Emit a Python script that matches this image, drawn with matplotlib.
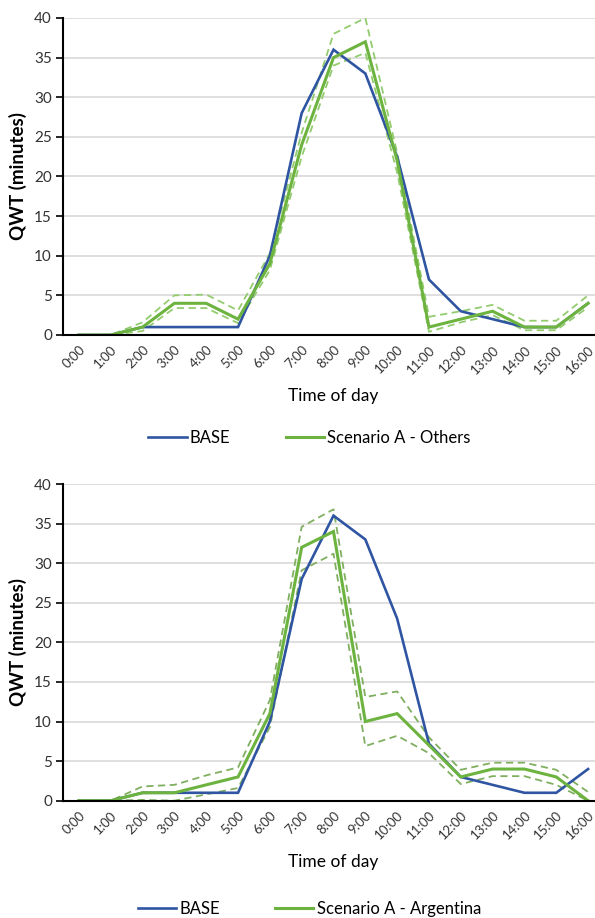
import numpy as np
import matplotlib.pyplot as plt

plt.rcParams['font.family'] = ['Lato', 'DejaVu Sans']

HOURS = [f"{h}:00" for h in range(17)]

# top panel - Scenario A Others
BASE_TOP = [0, 0, 1, 1, 1, 1, 10, 28, 36, 33, 22.5, 7, 3, 2, 1, 1, 4]
OTHERS_MID = [0, 0, 1, 4, 4, 2, 9, 24, 35, 37, 22, 1, 2, 3, 1, 1, 4]
OTHERS_HI = [0, 0, 1.6, 5, 5.1, 3.1, 10.3, 25.5, 38, 40, 23, 2.3, 3, 3.8, 1.8, 1.8, 5]
OTHERS_LO = [0, 0, 0.5, 3.4, 3.4, 1.5, 8.2, 22.5, 34, 35.6, 20.5, 0.4, 1.6, 2.5, 0.6, 0.6, 3.5]

# bottom panel - Scenario A Argentina
BASE_BOT = [0, 0, 1, 1, 1, 1, 10, 28, 36, 33, 23, 7.2, 3, 2, 1, 1, 4]
ARG_MID = [0, 0, 1, 1, 2, 3, 11, 32, 34, 10, 11, 7, 3, 4, 4, 3, 0]
ARG_HI = [0, 0, 1.8, 2, 3.2, 4.2, 12.7, 34.6, 36.8, 13.1, 13.8, 8, 3.9, 4.8, 4.8, 3.9, 1.1]
ARG_LO = [0, 0, 0.1, 0, 0.8, 1.6, 9.3, 29.1, 31.2, 6.9, 8.2, 6, 2.1, 3.1, 3.1, 2, 0]

BLUE = '#2F55A2'
GREEN = '#6DB33F'

fig = plt.figure(figsize=(5.95, 9.18), dpi=100)

def panel(rect, base, mid, hi, lo, dash_col, label, xlab_y, leg_y):
    ax = fig.add_axes(rect)
    x = np.arange(len(HOURS))
    ax.plot(x, hi, color=dash_col, lw=1.3, ls=(0, (4, 2.5)))
    ax.plot(x, lo, color=dash_col, lw=1.3, ls=(0, (4, 2.5)))
    l1, = ax.plot(x, base, color=BLUE, lw=1.9, solid_joinstyle='miter')
    l2, = ax.plot(x, mid, color=GREEN, lw=2.2, solid_joinstyle='miter')
    ax.set_xlim(-0.5, 16.5)
    ax.set_ylim(0, 40)
    ax.set_yticks(range(0, 41, 5))
    ax.set_xticks(x)
    ax.set_xticklabels(HOURS, rotation=45, ha='right', rotation_mode='anchor', fontsize=9.5, color='#333333')
    ax.tick_params(axis='x', length=0, pad=6)
    ax.tick_params(axis='y', length=5, width=1.2, labelsize=11, labelcolor='#333333', pad=3)
    ax.grid(axis='y', color='#D9D9D9', lw=1.2)
    ax.set_axisbelow(True)
    for s in ('top', 'right'):
        ax.spines[s].set_visible(False)
    ax.spines['left'].set_linewidth(1.5)
    ax.spines['bottom'].set_linewidth(1.5)
    ax.set_ylabel("QWT (minutes)", fontsize=13.5, fontweight='bold', labelpad=5)
    fig.text(0.56, xlab_y, "Time of day", ha='center', va='center', fontsize=12.5)
    fig.legend([l1, l2], ["BASE", label], loc='center', bbox_to_anchor=(0.52, leg_y),
               ncol=2, frameon=False, fontsize=12, handlelength=2.3,
               handletextpad=0.2, columnspacing=3.3)
    return ax

panel([63 / 595, 583 / 918, 541 / 595, 317 / 918], BASE_TOP, OTHERS_MID, OTHERS_HI, OTHERS_LO,
      '#93CC6E', "Scenario A - Others", 1 - 396 / 918, 1 - 438 / 918)
panel([63 / 595, 117.3 / 918, 541 / 595, 316.7 / 918], BASE_BOT, ARG_MID, ARG_HI, ARG_LO,
      '#7FAF5F', "Scenario A - Argentina", 1 - 862 / 918, 1 - 909 / 918)

fig.savefig("out.png", dpi=100, facecolor='white')
